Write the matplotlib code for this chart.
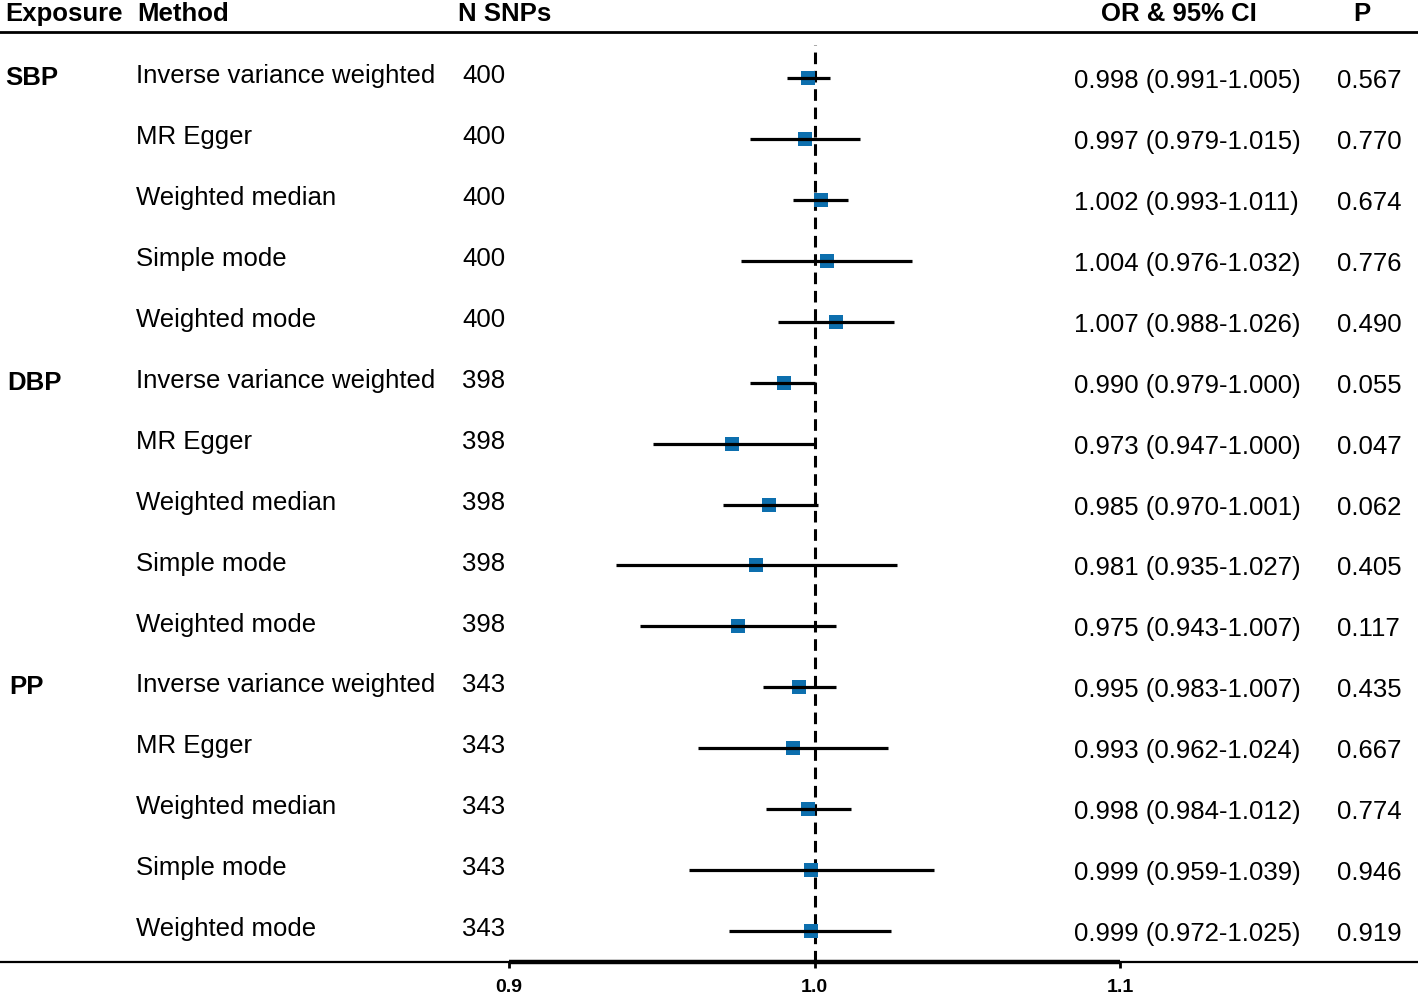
import numpy as np
import matplotlib.pyplot as plt
from matplotlib.transforms import blended_transform_factory

plt.rcParams['font.family'] = ['Liberation Sans', 'DejaVu Sans']

exposures = ["SBP", "DBP", "PP"]
methods = ["Inverse variance weighted", "MR Egger", "Weighted median",
           "Simple mode", "Weighted mode"]
n_snps = [400, 398, 343]

or_vals = [0.998, 0.997, 1.002, 1.004, 1.007,
           0.990, 0.973, 0.985, 0.981, 0.975,
           0.995, 0.993, 0.998, 0.999, 0.999]
ci_low = [0.991, 0.979, 0.993, 0.976, 0.988,
          0.979, 0.947, 0.970, 0.935, 0.943,
          0.983, 0.962, 0.984, 0.959, 0.972]
ci_high = [1.005, 1.015, 1.011, 1.032, 1.026,
           1.000, 1.000, 1.001, 1.027, 1.007,
           1.007, 1.024, 1.012, 1.039, 1.025]
p_vals = [0.567, 0.770, 0.674, 0.776, 0.490,
          0.055, 0.047, 0.062, 0.405, 0.117,
          0.435, 0.667, 0.774, 0.946, 0.919]
xticks = [0.9, 1.0, 1.1]

W, H = 1418, 1000
fig = plt.figure(figsize=(W / 100, H / 100), dpi=100)
ax = fig.add_axes([0, 1 - 962 / H, 1, (962 - 32) / H])

# pixel -> data scale
ppx = 0.2 / (1120 - 509)
ax.set_xlim(0.9 - 509 * ppx, 0.9 + (W - 509) * ppx)
step = 60.93
y_bot = (962 - 78) / step
ax.set_ylim(y_bot, (32 - 78) / step)

rows = np.arange(len(or_vals))
blue = '#0d6fae'
ax.plot(or_vals, rows, 's', color=blue, ms=9.5, zorder=2, markeredgewidth=0)
for i in rows:
    ax.plot([ci_low[i], ci_high[i]], [i, i], color='black', lw=2.3,
            solid_capstyle='butt', zorder=3)

# reference line at 1.0
ax.plot([1.0, 1.0], [y_bot, (45 - 78) / step], color='black',
        lw=2.2, ls=(0, (3.8, 2.2)), zorder=1)

for s in ['left', 'right']:
    ax.spines[s].set_visible(False)
ax.spines['top'].set_linewidth(2)
ax.spines['bottom'].set_linewidth(1.6)
ax.plot([xticks[0], xticks[-1]], [y_bot, y_bot], color='black',
        lw=3.2, clip_on=False, solid_capstyle='butt', zorder=4)
ax.set_yticks([])
ax.set_xticks(xticks)
ax.set_xticklabels([f"{t:.1f}" for t in xticks], fontsize=14, fontweight='bold')
ax.tick_params(axis='x', length=4, width=2, pad=8.5)

tr = blended_transform_factory(fig.transFigure, ax.transData)
fs = 18.5
hy = (14 - 78) / step
ax.text(5 / W, hy, "Exposure", transform=tr, fontsize=fs, fontweight='bold', va='center')
ax.text(137 / W, hy, "Method", transform=tr, fontsize=fs, fontweight='bold', va='center')
ax.text(458 / W, hy, "N SNPs", transform=tr, fontsize=fs, fontweight='bold', va='center')
ax.text(1179 / W, hy, "OR & 95% CI", transform=tr, fontsize=fs, fontweight='bold',
        va='center', ha='center')
ax.text(1362 / W, hy, "P", transform=tr, fontsize=fs, fontweight='bold',
        va='center', ha='center')

for g, name in enumerate(exposures):
    ax.text((5 + 2 * g) / W, g * 5, name, transform=tr, fontsize=fs,
            fontweight='bold', va='center')
    for k, m in enumerate(methods):
        i = g * 5 + k
        ax.text(136 / W, i - 0.03, m, transform=tr, fontsize=fs, va='center')
        ax.text(462 / W, i - 0.03, str(n_snps[g]), transform=tr, fontsize=fs, va='center')
        ax.text(1074 / W, i + 0.05,
                f"{or_vals[i]:.3f} ({ci_low[i]:.3f}-{ci_high[i]:.3f})",
                transform=tr, fontsize=fs, va='center')
        ax.text(1337 / W, i + 0.05, f"{p_vals[i]:.3f}", transform=tr,
                fontsize=fs, va='center')

fig.savefig("out.png", dpi=100)
